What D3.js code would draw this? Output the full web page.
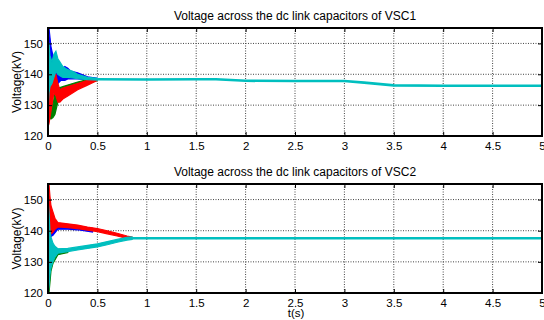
<!DOCTYPE html>
<html>
<head>
<meta charset="utf-8">
<script src="https://cdn.jsdelivr.net/npm/d3@7"></script>
<style>
  body { margin: 0; background: #fff; }
  text { font-family: "Liberation Sans", Arial, sans-serif; fill: #000; }
</style>
</head>
<body>
<svg id="chart" width="544" height="320"></svg>
<script>
// time ticks & voltage ticks
var xTicks = [0, 0.5, 1, 1.5, 2, 2.5, 3, 3.5, 4, 4.5, 5];
var yTicks = [120, 130, 140, 150];

// ripple bands: [t, low kV, high kV]
var vsc1Blue = [[0, 150, 155], [0.01, 140, 155], [0.02, 137, 152], [0.03, 136, 149], [0.05, 137, 146],
  [0.07, 136, 143], [0.1, 137, 141], [0.13, 138, 141], [0.17, 138, 142.5], [0.2, 138.5, 142],
  [0.23, 138.5, 141], [0.3, 138.5, 140.5], [0.4, 138.3, 139.2], [0.5, 138.1, 138.7]];
var vsc1Green = [[0.01, 126, 134], [0.03, 125.5, 131], [0.05, 126, 130], [0.07, 127, 134], [0.1, 131, 135.5],
  [0.15, 133, 136], [0.2, 134, 136.5], [0.3, 135.5, 137.5], [0.4, 137, 138.3], [0.5, 138, 138.6]];
var vsc1Red = [[0, 123, 128], [0.01, 124, 132], [0.02, 126, 136], [0.04, 130, 138], [0.06, 134, 139.5],
  [0.08, 133, 140], [0.1, 131, 137], [0.12, 131, 135], [0.15, 132, 135.5], [0.2, 133, 136],
  [0.3, 135, 137], [0.4, 136.5, 138], [0.5, 138, 138.6]];
var vsc1Cyan = [[0, 128, 150], [0.01, 134, 150], [0.02, 136, 146], [0.04, 137, 144], [0.06, 139, 146.5],
  [0.08, 141, 147.5], [0.1, 140, 145], [0.12, 139.5, 144], [0.15, 139, 142.5], [0.2, 139, 141.5],
  [0.25, 138.8, 141], [0.3, 138.6, 140], [0.4, 138.3, 139], [0.5, 138.1, 138.7]];
// settled dc link voltage, all four traces on top of each other: [t, kV]
var vsc1Settled = [[0.5, 138.4], [1, 138.3], [1.5, 138.4], [1.7, 138.4], [2, 137.9], [2.5, 137.8],
  [3, 137.8], [3.2, 137.3], [3.5, 136.4], [4, 136.3], [4.5, 136.3], [5, 136.3]];

var vsc2Blue = [[0.02, 138, 141], [0.05, 138.5, 141], [0.1, 140.5, 142], [0.2, 140.5, 141.8],
  [0.3, 140.3, 141.4], [0.45, 139.6, 140.8]];
var vsc2Green = [[0.01, 120, 135], [0.03, 127, 134], [0.05, 129.5, 133], [0.1, 132.3, 134], [0.2, 133, 134]];
var vsc2Red = [[0, 138, 155], [0.01, 140, 155], [0.02, 139, 151], [0.03, 139, 148], [0.05, 139.5, 146],
  [0.07, 140.5, 144], [0.1, 141.2, 142.6], [0.2, 141, 142.2], [0.3, 140.7, 141.8], [0.4, 140.2, 141.2],
  [0.5, 139.7, 140.7], [0.6, 139, 140], [0.7, 138.3, 139.2], [0.8, 137.5, 138.3], [0.85, 137.3, 138]];
var vsc2Cyan = [[0, 120, 150], [0.01, 122, 146], [0.02, 126, 140], [0.03, 128, 138], [0.05, 130, 136],
  [0.07, 131.5, 135], [0.1, 132.8, 134.2], [0.2, 133.3, 134.3], [0.3, 133.8, 134.8], [0.4, 134.3, 135.3],
  [0.5, 134.8, 135.8], [0.6, 135.5, 136.5], [0.7, 136.3, 137.2], [0.8, 137, 137.9], [0.85, 137.2, 138]];
var vsc2Settled = [[0.85, 137.6], [1, 137.6], [2, 137.6], [3, 137.6], [4, 137.6], [5, 137.6]];

var svg = d3.select("#chart");
var x = d3.scaleLinear().domain([0, 5]).range([48, 542]);

function panel(id, top, bottom, title, bands, settled, showXLabel) {
  var y = d3.scaleLinear().domain([120, 155]).range([bottom, top]);
  var g = svg.append("g");

  g.append("clipPath").attr("id", id).append("rect")
    .attr("x", 48).attr("y", top).attr("width", 494).attr("height", bottom - top);

  // dotted grid
  g.selectAll(".vg").data(xTicks.slice(1, -1)).enter().append("line")
    .attr("x1", d => x(d)).attr("x2", d => x(d)).attr("y1", top).attr("y2", bottom)
    .attr("stroke", "#444").attr("stroke-dasharray", "1,1.5");
  g.selectAll(".hg").data(yTicks.slice(1)).enter().append("line")
    .attr("x1", 48).attr("x2", 542).attr("y1", d => y(d)).attr("y2", d => y(d))
    .attr("stroke", "#444").attr("stroke-dasharray", "1,1.5");

  var area = d3.area().x(d => x(d[0])).y0(d => y(d[1])).y1(d => y(d[2]));
  var plot = g.append("g").attr("clip-path", "url(#" + id + ")");
  bands.forEach(function(b) {
    plot.append("path").datum(b.data).attr("d", area)
      .attr("fill", b.color).attr("stroke", b.color).attr("stroke-width", 1.2);
  });
  plot.append("path").datum(settled)
    .attr("d", d3.line().x(d => x(d[0])).y(d => y(d[1])))
    .attr("fill", "none").attr("stroke", "#00bfbf").attr("stroke-width", 2.6);

  // axes with inward ticks on all sides
  g.append("g").attr("transform", "translate(0," + bottom + ")")
    .call(d3.axisBottom(x).tickValues(xTicks).tickSizeInner(-4).tickSizeOuter(0).tickPadding(6).tickFormat(d3.format("")))
    .call(a => a.select(".domain").remove());
  g.append("g").attr("transform", "translate(0," + top + ")")
    .call(d3.axisTop(x).tickValues(xTicks).tickSizeInner(-4).tickSizeOuter(0).tickFormat(""))
    .call(a => a.select(".domain").remove());
  g.append("g").attr("transform", "translate(48,0)")
    .call(d3.axisLeft(y).tickValues(yTicks).tickSizeInner(-4).tickSizeOuter(0).tickPadding(5))
    .call(a => a.select(".domain").remove());
  g.append("g").attr("transform", "translate(542,0)")
    .call(d3.axisRight(y).tickValues(yTicks).tickSizeInner(-4).tickSizeOuter(0).tickFormat(""))
    .call(a => a.select(".domain").remove());
  g.selectAll(".tick line").attr("stroke", "#000");
  g.selectAll(".tick text").style("font-size", "11.5px").attr("fill", "#000");

  g.append("rect").attr("x", 48).attr("y", top).attr("width", 494).attr("height", bottom - top)
    .attr("fill", "none").attr("stroke", "#000").attr("stroke-width", 2);

  g.append("text").attr("x", 295).attr("y", top - 8).attr("text-anchor", "middle")
    .style("font-size", "12px").text(title);
  g.append("text").attr("transform", "translate(21," + (top + bottom) / 2 + ") rotate(-90)")
    .attr("text-anchor", "middle").style("font-size", "12px").text("Voltage(kV)");
  if (showXLabel) {
    g.append("text").attr("x", 296).attr("y", bottom + 24).attr("text-anchor", "middle")
      .style("font-size", "11.5px").text("t(s)");
  }
}

panel("clip1", 28, 136, "Voltage across the dc link capacitors of VSC1", [
  { data: vsc1Blue, color: "#0000ff" },
  { data: vsc1Green, color: "#008000" },
  { data: vsc1Red, color: "#ff0000" },
  { data: vsc1Cyan, color: "#00bfbf" }
], vsc1Settled, false);

panel("clip2", 184, 293, "Voltage across the dc link capacitors of VSC2", [
  { data: vsc2Blue, color: "#0000ff" },
  { data: vsc2Green, color: "#008000" },
  { data: vsc2Red, color: "#ff0000" },
  { data: vsc2Cyan, color: "#00bfbf" }
], vsc2Settled, true);
</script>
</body>
</html>
